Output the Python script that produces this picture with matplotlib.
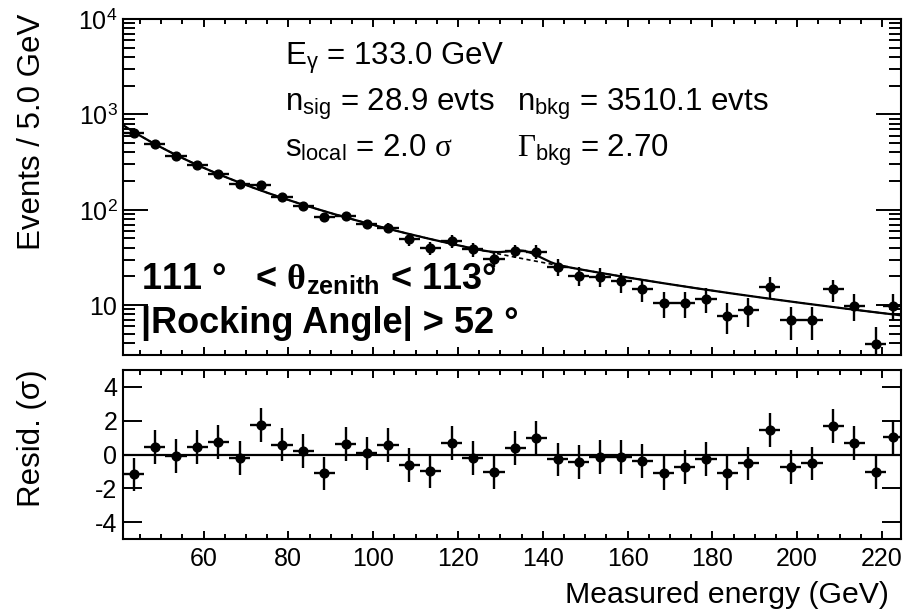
import numpy as np
import matplotlib
matplotlib.use("Agg")
import matplotlib.pyplot as plt
from matplotlib.ticker import FixedLocator, FixedFormatter, MultipleLocator, NullFormatter

plt.rcParams['font.family'] = ['Liberation Sans', 'DejaVu Sans']
plt.rcParams['mathtext.fontset'] = 'custom'
plt.rcParams['mathtext.rm'] = 'Liberation Sans'
plt.rcParams['mathtext.it'] = 'Liberation Serif'
plt.rcParams['mathtext.bf'] = 'Liberation Sans:bold'
plt.rcParams['mathtext.sf'] = 'Liberation Serif'
plt.rcParams['mathtext.bfit'] = 'Liberation Serif:bold'

# ---- data ----
energy = [43.5, 48.5, 53.5, 58.5, 63.5, 68.5, 73.5, 78.5, 83.5, 88.5,
          93.5, 98.5, 103.5, 108.5, 113.5, 118.5, 123.5, 128.5, 133.5, 138.5,
          143.5, 148.5, 153.5, 158.5, 163.5, 168.5, 173.5, 178.5, 183.5, 188.5,
          193.5, 198.5, 203.5, 208.5, 213.5, 218.5, 222.7]
counts = [632, 492, 366, 297, 239, 188, 182, 136, 110, 83,
          86, 70.5, 65, 49, 40, 47, 38.5, 30.4, 37, 36.2,
          25.2, 20.3, 19.8, 17.7, 14.7, 10.6, 10.6, 11.6, 7.7, 8.9,
          15.6, 6.9, 6.9, 14.7, 9.9, 3.9, 9.9]
resid = [-1.18, 0.45, -0.08, 0.45, 0.75, -0.2, 1.76, 0.59, 0.22, -1.12,
         0.61, 0.06, 0.55, -0.63, -0.98, 0.69, -0.2, -1.02, 0.37, 0.98,
         -0.29, -0.43, -0.16, -0.16, -0.39, -1.08, -0.75, -0.25, -1.08, -0.53,
         1.43, -0.73, -0.53, 1.67, 0.69, -1.04, 1.02]

# fit parameters shown on the chart
e_gamma = 133.0
n_sig = 28.9
n_bkg = 3510.1
gamma_bkg = 2.70
bin_width = 5.0
e_min, e_max = 41.0, 224.5

# visible line bump (peak height per bin, centre, width)
bump_peak = 6.5
bump_centre = 135.5
bump_sigma = 3.5

# ---- figure ----
W, H = 911, 613
fig = plt.figure(figsize=(W / 100, H / 100), dpi=100)

def fx(px):
    return px / W

def fy(py):
    return 1 - py / H

ax1 = fig.add_axes([fx(123), fy(355), fx(901) - fx(123), fy(19) - fy(355)])
ax2 = fig.add_axes([fx(123), fy(539), fx(901) - fx(123), fy(370) - fy(539)])

lw = 1.5
ms = 6.3

# model curves
E = np.linspace(e_min, e_max, 800)
norm = (gamma_bkg - 1) / (e_min ** (1 - gamma_bkg) - e_max ** (1 - gamma_bkg))
bkg = n_bkg * bin_width * norm * E ** (-gamma_bkg)
sig = bump_peak * np.exp(-0.5 * ((E - bump_centre) / bump_sigma) ** 2)

ax1.plot(E, bkg, color='black', lw=1.2, ls=(0, (2.5, 2)), zorder=2)
ax1.plot(E, bkg + sig, color='black', lw=1.6, zorder=3)

cnt = np.array(counts)
ax1.errorbar(energy, counts, xerr=bin_width / 2, yerr=np.sqrt(cnt), fmt='o',
             color='black', ms=ms, elinewidth=1.7, capsize=0, zorder=4)

ax1.set_yscale('log')
ax1.set_xlim(e_min, e_max)
ax1.set_ylim(3, 1e4)
ax1.yaxis.set_major_locator(FixedLocator([10, 100, 1000, 10000]))
ax1.yaxis.set_major_formatter(FixedFormatter(['10', r'$10^{2}$', r'$10^{3}$', r'$10^{4}$']))
minors = [m * 10 ** d for d in range(0, 4) for m in range(2, 10)]
ax1.yaxis.set_minor_locator(FixedLocator(minors))
ax1.yaxis.set_minor_formatter(NullFormatter())
ax1.xaxis.set_major_locator(MultipleLocator(20))
ax1.xaxis.set_minor_locator(MultipleLocator(5))
ax1.tick_params(axis='x', which='both', labelbottom=False)

# residual panel
ax2.axhline(0, color='black', lw=1.6, zorder=2)
ax2.errorbar(energy, resid, xerr=bin_width / 2, yerr=1.0, fmt='o',
             color='black', ms=ms, elinewidth=1.7, capsize=0, zorder=4)
ax2.set_xlim(e_min, e_max)
ax2.set_ylim(-5, 5)
ax2.yaxis.set_major_locator(FixedLocator([-4, -2, 0, 2, 4]))
ax2.yaxis.set_major_formatter(FixedFormatter(['-4', '-2', '0', '2', '4']))
ax2.xaxis.set_major_locator(MultipleLocator(20))
ax2.xaxis.set_minor_locator(MultipleLocator(5))

for ax in (ax1, ax2):
    for s in ax.spines.values():
        s.set_linewidth(lw)
    ax.tick_params(which='both', direction='in', top=True, right=True, width=1.4,
                   labelsize=18, colors='black')
    ax.tick_params(axis='x', which='major', length=6, pad=6)
    ax.tick_params(axis='x', which='minor', length=3.6)

ax1.tick_params(axis='y', which='major', length=18, pad=4)
ax1.tick_params(axis='y', which='minor', length=8.5)
ax2.tick_params(axis='y', which='major', length=14, pad=4)
ax2.tick_params(axis='y', which='minor', length=0)

# axis titles
fig.text(fx(32), fy(14), 'Events / 5.0 GeV', rotation=90, ha='center', va='top', fontsize=22.5)
fig.text(fx(32), fy(369), 'Resid. (σ)', rotation=90, ha='center', va='top', fontsize=22.5)
fig.text(fx(889), fy(603), 'Measured energy (GeV)', ha='right', va='baseline', fontsize=21.8)

# fit information
fs = 22.5
fig.text(fx(285), fy(65), r'E$_{\mathrm{\gamma}}$ = 133.0 GeV', fontsize=fs, va='baseline')
fig.text(fx(285), fy(110), r'n$_{\mathrm{sig}}$ = 28.9 evts', fontsize=fs, va='baseline')
fig.text(fx(285), fy(157), r's$_{\mathrm{local}}$ = 2.0 $\sigma$', fontsize=fs, va='baseline')
fig.text(fx(517), fy(110), r'n$_{\mathrm{bkg}}$ = 3510.1 evts', fontsize=fs, va='baseline')
fig.text(fx(517), fy(157), r'$\mathsf{\Gamma}_{\mathrm{bkg}}$ = 2.70', fontsize=fs, va='baseline')

# selection labels
fig.text(fx(141), fy(290), r'111 °   < $\mathbfit{\theta}_{\mathbf{zenith}}$ < 113°',
         fontsize=26, fontweight='bold', va='baseline')
fig.text(fx(141), fy(333), '|Rocking Angle| > 52 °', fontsize=26, fontweight='bold', va='baseline')

fig.savefig('out.png', dpi=100)
